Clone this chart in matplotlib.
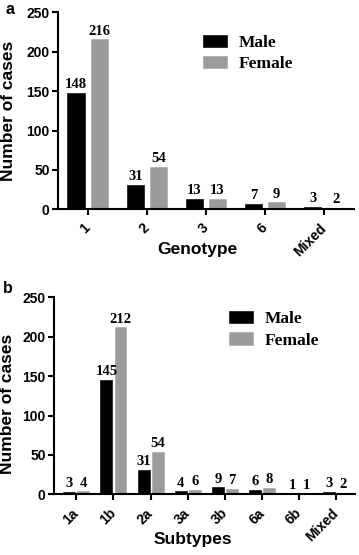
import numpy as np
import matplotlib
matplotlib.use("Agg")
import matplotlib.pyplot as plt

# ---------------- datos ----------------
genotypes = ["1", "2", "3", "6", "Mixed"]
geno_male = [148, 31, 13, 7, 3]
geno_female = [216, 54, 13, 9, 2]

subtypes = ["1a", "1b", "2a", "3a", "3b", "6a", "6b", "Mixed"]
sub_male = [3, 145, 31, 4, 9, 6, 1, 3]
sub_female = [4, 212, 54, 6, 7, 8, 1, 2]

yticks = [0, 50, 100, 150, 200, 250]

# ---------------- estilo ----------------
SANS = "Liberation Sans"
SERIF = "Liberation Serif"
MALE_C = "#000000"
FEMALE_C = "#9b9b9b"
LW = 1.5

fig = plt.figure(figsize=(3.59, 5.55), dpi=100)


def panel(rect, cats, male, female, width, off, xlab, xlim, leg_anchor, label_xy, ylab_xy):
    ax = fig.add_axes(rect)
    x = np.arange(len(cats))
    b1 = ax.bar(x - off, male, width, color=MALE_C, edgecolor="#111111", linewidth=0.5, label="Male")
    b2 = ax.bar(x + off, female, width, color=FEMALE_C, edgecolor="#aaaaaa", linewidth=0.5, label="Female")
    for bars, vals in ((b1, male), (b2, female)):
        for r, v in zip(bars, vals):
            ax.text(r.get_x() + r.get_width() / 2, v + 2, str(v), ha="center", va="bottom",
                    family=SERIF, fontweight="bold", fontsize=10.5)
    ax.set_xlim(*xlim)
    ax.set_ylim(0, 250)
    ax.set_yticks(yticks)
    ax.set_xticks(x)
    ax.set_xticklabels(cats, rotation=45, ha="right", va="center", rotation_mode="anchor",
                       family=SANS, fontweight="bold", fontsize=10)
    for t in ax.get_yticklabels():
        t.set_family(SANS)
        t.set_fontweight("bold")
        t.set_fontsize(10)
    ax.tick_params(axis="both", direction="out", length=4, width=LW, pad=2)
    ax.tick_params(axis="x", pad=8)
    for s in ("top", "right"):
        ax.spines[s].set_visible(False)
    for s in ("left", "bottom"):
        ax.spines[s].set_linewidth(LW)
    ax.set_xlabel(xlab, family=SANS, fontweight="bold", fontsize=12.5)
    ax.set_ylabel("Number of cases", family=SANS, fontweight="bold", fontsize=12.5)
    ax.xaxis.set_label_coords(*label_xy)
    ax.yaxis.set_label_coords(*ylab_xy)
    ax.legend(loc="upper left", bbox_to_anchor=leg_anchor, frameon=False,
              prop={"family": SERIF, "weight": "bold", "size": 12.5},
              handlelength=1.4, handleheight=0.7, handletextpad=0.65,
              labelspacing=0.3, borderpad=0, borderaxespad=0)
    return ax


panel([58 / 359, 1 - 209.3 / 555, 296 / 359, 197 / 555], genotypes, geno_male, geno_female,
      0.29, 0.195, "Genotype", (-0.5, 4.5), (0.49, 0.885), (0.471, -0.165), (-0.142, 0.5))
panel([54 / 359, 1 - 494.3 / 555, 301 / 359, 197 / 555], subtypes, sub_male, sub_female,
      0.32, 0.19, "Subtypes", (-0.6, 7.5), (0.581, 0.93), (0.46, -0.19), (-0.128, 0.46))

fig.text(5 / 359, 1 - 2 / 555, "a", family=SANS, fontweight="bold", fontsize=11.5, va="top")
fig.text(3 / 359, 1 - 281 / 555, "b", family=SANS, fontweight="bold", fontsize=11.5, va="top")

plt.savefig("out.png", dpi=100)
